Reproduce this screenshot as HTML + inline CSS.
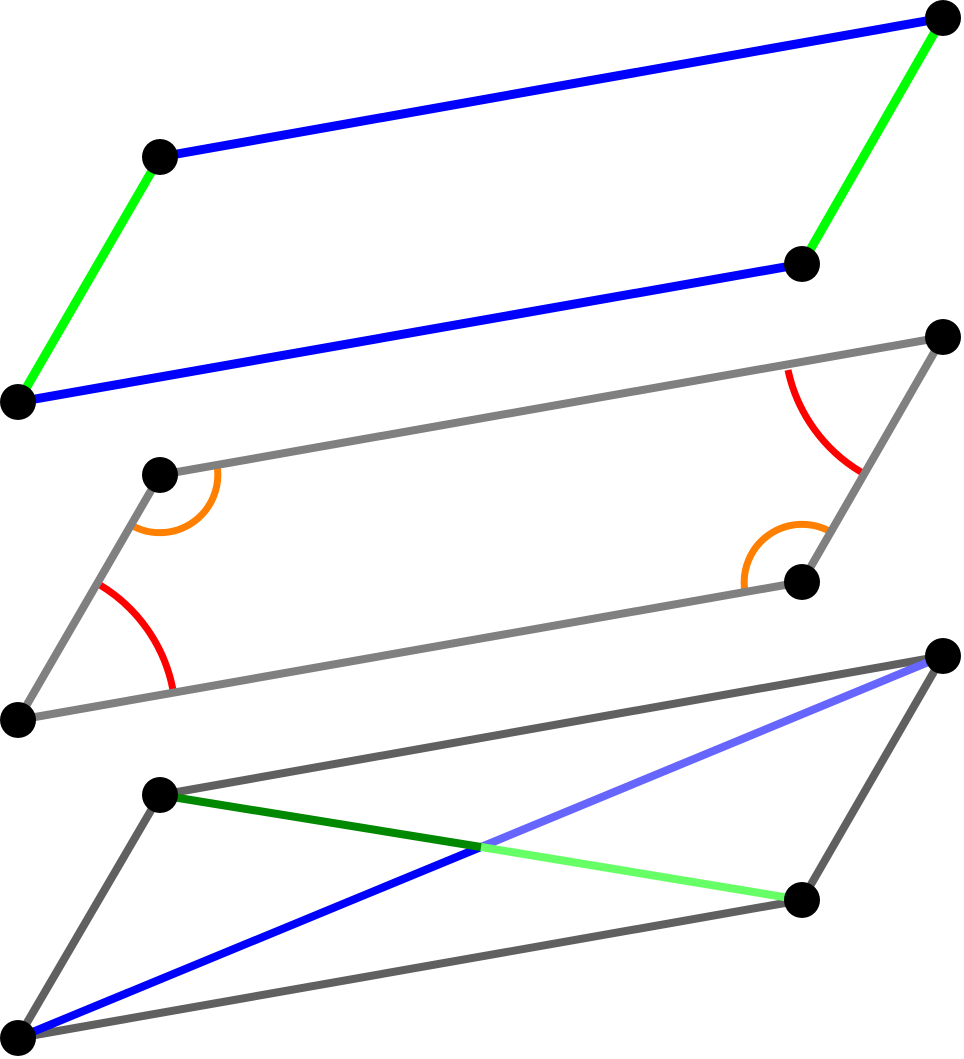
<!DOCTYPE html>
<html><head><meta charset="utf-8"><style>html,body{margin:0;padding:0;background:#fff}svg{display:block}</style></head>
<body>
<svg width="964" height="1059" viewBox="0 0 964 1059" xmlns="http://www.w3.org/2000/svg">
<g stroke-linecap="butt" fill="none">
<!-- top -->
<line x1="160" y1="157" x2="943" y2="18" stroke="#0000ff" stroke-width="9"/>
<line x1="18" y1="402" x2="802" y2="264" stroke="#0000ff" stroke-width="9"/>
<line x1="18" y1="402" x2="160" y2="157" stroke="#00ff00" stroke-width="9"/>
<line x1="802" y1="264" x2="943" y2="18" stroke="#00ff00" stroke-width="9"/>
<!-- middle -->
<path d="M100 585 A157 157 0 0 1 173 690" stroke="#ff0000" stroke-width="7"/>
<path d="M788 370 A157 157 0 0 0 861 472" stroke="#ff0000" stroke-width="7"/>
<path d="M217 465 A58 58 0 0 1 131 525" stroke="#ff8000" stroke-width="7"/>
<path d="M745 592 A58 58 0 0 1 831 532" stroke="#ff8000" stroke-width="7"/>
<line x1="160" y1="475" x2="943" y2="337" stroke="#808080" stroke-width="8"/>
<line x1="18" y1="720" x2="802" y2="582" stroke="#808080" stroke-width="8"/>
<line x1="18" y1="720" x2="160" y2="475" stroke="#808080" stroke-width="8"/>
<line x1="802" y1="582" x2="943" y2="337" stroke="#808080" stroke-width="8"/>
<!-- bottom -->
<line x1="160" y1="795" x2="943" y2="656" stroke="#606060" stroke-width="8"/>
<line x1="18" y1="1038" x2="802" y2="900" stroke="#606060" stroke-width="8"/>
<line x1="18" y1="1038" x2="160" y2="795" stroke="#606060" stroke-width="8"/>
<line x1="802" y1="900" x2="943" y2="656" stroke="#606060" stroke-width="8"/>
<line x1="18" y1="1038" x2="481" y2="847" stroke="#0000ff" stroke-width="8"/>
<line x1="481" y1="847" x2="943" y2="656" stroke="#6666ff" stroke-width="8"/>
<line x1="160" y1="795" x2="481" y2="847" stroke="#008800" stroke-width="8"/>
<line x1="481" y1="847" x2="802" y2="900" stroke="#66ff66" stroke-width="8"/>
</g>
<g fill="#000">
<circle cx="18" cy="402" r="18"/><circle cx="160" cy="157" r="18"/><circle cx="943" cy="18" r="18"/><circle cx="802" cy="264" r="18"/>
<circle cx="18" cy="720" r="18"/><circle cx="160" cy="475" r="18"/><circle cx="943" cy="337" r="18"/><circle cx="802" cy="582" r="18"/>
<circle cx="18" cy="1038" r="18"/><circle cx="160" cy="795" r="18"/><circle cx="943" cy="656" r="18"/><circle cx="802" cy="900" r="18"/>
</g>
</svg>
</body></html>
